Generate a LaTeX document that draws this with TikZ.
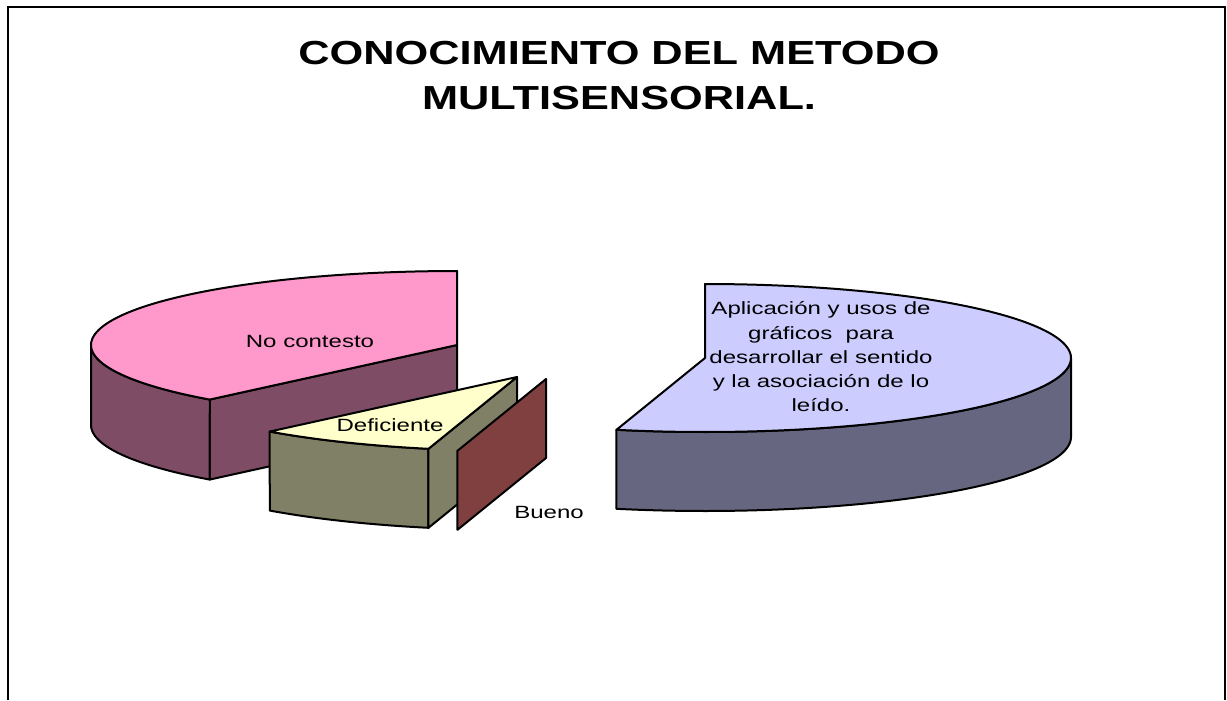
\documentclass[tikz,border=0pt]{standalone}
\usepackage{fontspec}
\setmainfont{Liberation Sans}
\definecolor{pinktop}{HTML}{FF99CC}
\definecolor{pinkside}{HTML}{7F4C66}
\definecolor{yeltop}{HTML}{FFFFCC}
\definecolor{yelside}{HTML}{808066}
\definecolor{lavtop}{HTML}{CCCCFF}
\definecolor{lavside}{HTML}{666680}
\definecolor{buenoside}{HTML}{804040}
\tikzset{
  face/.style={draw=black, line width=1.5pt, line join=round},
  lbl/.style={inner sep=0pt, font=\fontsize{13.3}{18.15}\selectfont},
  ttl/.style={inner sep=0pt, font=\fontsize{25}{33.75}\selectfont\bfseries},
}
\begin{document}
\begin{tikzpicture}[x=0.75pt,y=-0.75pt]
\useasboundingbox (0,0) rectangle (1227,700);
\fill[white] (0,0) rectangle (1227,700);
% frame
\draw[line width=1.5pt] (8,700) -- (8,7) -- (1225,7) -- (1225,700);

% title
\node[ttl] (title) at (619,77.5) {\scalebox{1.30}[1]{\begin{tabular}{@{}c@{}}CONOCIMIENTO DEL METODO\\MULTISENSORIAL.\end{tabular}}};

% ---- No contesto slice (center 457,345) ----
\path[face, fill=pinkside] (457,345) -- ({457+366*cos(227.5)},{345-74*sin(227.5)}) -- ({457+366*cos(227.5)},{425-74*sin(227.5)}) -- (457,425) -- cycle;
\path[face, fill=pinkside] plot[domain=180:227.5, samples=40] ({457+366*cos(\x)},{345-74*sin(\x)}) -- plot[domain=227.5:180, samples=40] ({457+366*cos(\x)},{425-74*sin(\x)}) -- cycle;
\path[face, fill=pinktop] (457,345) -- plot[domain=90:227.5, samples=80] ({457+366*cos(\x)},{345-74*sin(\x)}) -- cycle;

% ---- Deficiente slice (center 517,377) ----
\path[face, fill=yelside] plot[domain=227.5:256, samples=30] ({517+366*cos(\x)},{377-74*sin(\x)}) -- plot[domain=256:227.5, samples=30] ({517+366*cos(\x)},{456-74*sin(\x)}) -- cycle;
\path[face, fill=yelside] (517,377) -- ({517+366*cos(256)},{377-74*sin(256)}) -- ({517+366*cos(256)},{456-74*sin(256)}) -- (517,456) -- cycle;
\path[face, fill=yeltop] (517,377) -- plot[domain=227.5:256, samples=30] ({517+366*cos(\x)},{377-74*sin(\x)}) -- cycle;

% ---- Bueno (zero slice wall, center 546,379) ----
\path[face, fill=buenoside] (546,379) -- ({546+366*cos(256)},{379-74*sin(256)}) -- ({546+366*cos(256)},{458-74*sin(256)}) -- (546,458) -- cycle;

% ---- Aplicacion slice (center 705,358) ----
\path[face, fill=lavside] plot[domain=256:360, samples=60] ({705+366*cos(\x)},{358-74*sin(\x)}) -- plot[domain=360:256, samples=60] ({705+366*cos(\x)},{437-74*sin(\x)}) -- cycle;
\path[face, fill=lavtop] (705,358) -- plot[domain=256:450, samples=120] ({705+366*cos(\x)},{358-74*sin(\x)}) -- cycle;

% labels
\node[lbl, anchor=base] (nocont) at (310,347.7) {\scalebox{1.355}[1]{No contesto}};
\node[lbl, anchor=base] (defic) at (390,431.7) {\scalebox{1.355}[1]{Deficiente}};
\node[lbl, anchor=base] (bueno) at (549,518) {\scalebox{1.355}[1]{Bueno}};
\node[lbl] (aplic) at (821,358.5) {\scalebox{1.355}[1]{\begin{tabular}{@{}c@{}}Aplicación y usos de\\gráficos~ para\\desarrollar el sentido\\y la asociación de lo\\leído.\end{tabular}}};
\end{tikzpicture}
\end{document}
